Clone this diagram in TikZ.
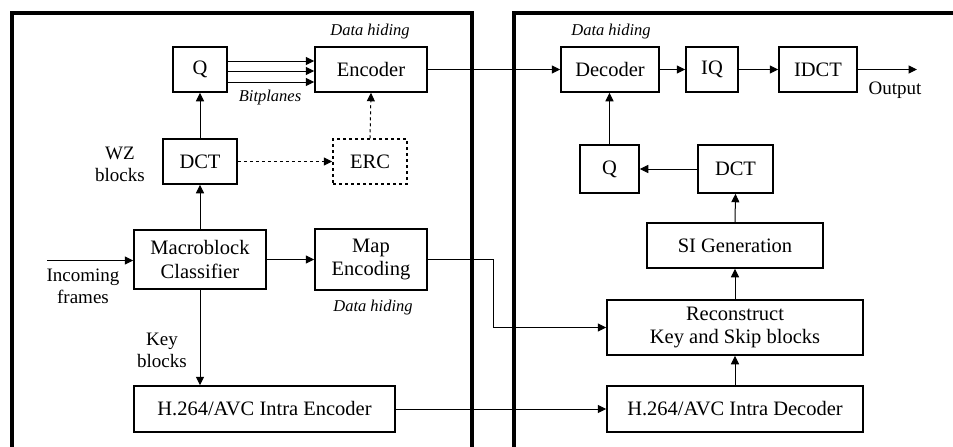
\documentclass[tikz,border=0pt]{standalone}
\usepackage{fontspec}
\setmainfont{Liberation Serif}
\usetikzlibrary{arrows.meta}
\begin{document}
\begin{tikzpicture}[x=1pt,y=-1pt,
  blk/.style={draw,line width=1.5pt,fill=white,inner sep=0pt,align=center,font=\fontsize{20.5}{23.5}\selectfont},
  lbl/.style={align=center,inner sep=0pt,font=\fontsize{19}{22}\selectfont},
  dh/.style={inner sep=0pt,font=\fontsize{16.5}{19}\selectfont\itshape},
  arr/.style={line width=1pt,-{Triangle[length=8.5pt,width=8pt]}},
  frame/.style={line width=3.5pt}]
\useasboundingbox (0,0) rectangle (953,447);
% frames
\draw[frame] (12,449) -- (12,13) -- (472,13) -- (472,449);
\draw[frame] (514,449) -- (514,13) -- (955,13);
% encoder side
\node[blk,minimum width=54pt,minimum height=45pt] (q1) at (200,69.5) {Q};
\node[blk,minimum width=112pt,minimum height=45pt] (enc) at (371,69.5) {Encoder};
\node[blk,minimum width=74pt,minimum height=45pt] (dct1) at (200,161.5) {DCT};
\node[blk,dashed,minimum width=74pt,minimum height=45pt] (erc) at (370,161.5) {ERC};
\node[blk,minimum width=132pt,minimum height=59pt] (mbc) at (200,259.5) {Macroblock\\Classifier};
\node[blk,minimum width=112pt,minimum height=61pt] (map) at (371,259.5) {Map\\Encoding};
\node[blk,minimum width=261pt,minimum height=46pt] (h264e) at (264.5,409) {H.264/AVC Intra Encoder};
% decoder side
\node[blk,minimum width=98pt,minimum height=45pt] (dec) at (610,69.5) {Decoder};
\node[blk,minimum width=52pt,minimum height=45pt] (iq) at (712,69.5) {IQ};
\node[blk,minimum width=78pt,minimum height=45pt] (idct) at (818,69.5) {IDCT};
\node[blk,minimum width=59pt,minimum height=48pt] (q2) at (609.5,169) {Q};
\node[blk,minimum width=75pt,minimum height=48pt] (dct2) at (735.5,169) {DCT};
\node[blk,minimum width=176pt,minimum height=45pt] (si) at (735,245.5) {SI Generation};
\node[blk,minimum width=256pt,minimum height=55pt] (rec) at (735,327.5) {Reconstruct\\Key and Skip blocks};
\node[blk,minimum width=256pt,minimum height=46pt] (h264d) at (735,409) {H.264/AVC Intra Decoder};
% labels
\node[dh] (dh1) at (370,32) {Data hiding};
\node[dh] (bp) at (270,98) {Bitplanes};
\node[lbl] (wz) at (120,164) {WZ\\blocks};
\node[lbl] (inc) at (83,286) {Incoming\\frames};
\node[lbl] (key) at (162,350) {Key\\blocks};
\node[dh] (dh2) at (373,308) {Data hiding};
\node[dh] (dh3) at (611,32) {Data hiding};
\node[lbl] (outl) at (895,90) {Output};
% coordinates
\coordinate (in) at (47,260.5);
\coordinate (out) at (917,69.5);
\coordinate (bend) at (493,259.5);
% connectors
\foreach \yy in {61,71,82} \draw[arr] (q1.east |- 0,\yy) -- (enc.west |- 0,\yy);
\draw[arr] (enc.east) -- (dec.west);
\draw[arr] (dec.east) -- (iq.west);
\draw[arr] (iq.east) -- (idct.west);
\draw[arr] (idct.east) -- (out);
\draw[arr] (dct1.north) -- (q1.south);
\draw[arr] (mbc.north) -- (dct1.south);
\draw[arr] (mbc.south) -- (mbc.south |- h264e.north);
\draw[arr,dashed] (dct1.east) -- (erc.west);
\draw[arr,dashed] (erc.north) -- (enc.south);
\draw[arr] (in) -- (mbc.west |- in);
\draw[arr] (mbc.east) -- (map.west);
\draw[arr] (map.east) -- (bend) |- (rec.west);
\draw[arr] (h264e.east) -- (h264d.west);
\draw[arr] (h264d.north) -- (rec.south);
\draw[arr] (rec.north) -- (si.south);
\draw[arr] (si.north) -- (dct2.south);
\draw[arr] (dct2.west) -- (q2.east);
\draw[arr] (q2.north) -- (q2.north |- dec.south);
\end{tikzpicture}
\end{document}
